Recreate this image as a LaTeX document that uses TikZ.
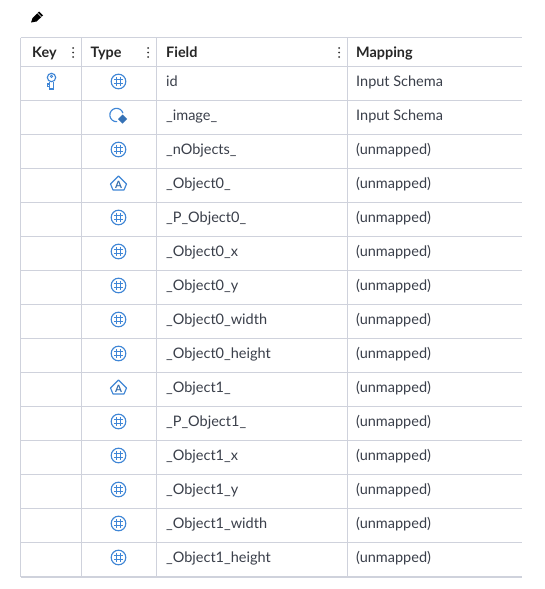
\documentclass[tikz,border=0pt]{standalone}
\usepackage{fontspec}
\setmainfont{Lato}
\usepackage{tikz}
\definecolor{gridline}{HTML}{CFD2DC}
\definecolor{iconblue}{HTML}{3F86D6}
\definecolor{celltext}{HTML}{3A3F4A}
\tikzset{
  head cell/.style={anchor=base west,inner sep=0pt,font=\fontsize{14.4}{14}\selectfont\bfseries,text=black!85},
  body cell/.style={anchor=base west,inner sep=0pt,font=\fontsize{14.5}{14}\selectfont,text=celltext},
  grid line/.style={draw=gridline,line width=1.2pt},
  icon line/.style={draw=iconblue,line width=1.15pt},
  pics/numicon/.style={code={
    \draw[icon line] (0,0) circle (7.3);
    \draw[icon line,line width=1pt] (-2,-4.5) -- (-2,4.5) (2,-4.5) -- (2,4.5) (-4.5,-2) -- (4.5,-2) (-4.5,2) -- (4.5,2);
  }},
  pics/charicon/.style={code={
    \draw[icon line,line join=round] (0,-7.5) -- (8,.5) -- (5.5,6.5) -- (-5.5,6.5) -- (-8,.5) -- cycle;
    \node[inner sep=0pt,text=iconblue!80!black,font=\fontsize{10}{10}\selectfont\bfseries] at (0,1) {A};
  }},
  pics/imgicon/.style={code={
    \draw[icon line] (-2,-.5) ++(84:6.7) arc (84:344:6.7);
    \fill[iconblue!85!black] (4,-1) -- (8.5,3.5) -- (4,8) -- (-.5,3.5) -- cycle;
  }},
  pics/keyicon/.style={code={
    \draw[icon line] (0,-4) circle (4.2);
    \draw[icon line,line width=.8pt] (0,-5.2) circle (1.2);
    \draw[icon line] (-2.2,0) -- (-2.2,7.5) -- (2.2,7.5) -- (2.2,0);
    \draw[icon line] (-2.2,2.5) -- (-4,2.5) -- (-4,4.8) -- (-2.2,4.8);
  }},
}
\begin{document}
\begin{tikzpicture}[x=1pt,y=-1pt]
  \useasboundingbox[fill=white] (0,0) rectangle (544,589);

  % pencil
  \fill[black] (31,22.5) -- (32.5,18) -- (39,11.5) -- (43,15.5) -- (36.5,21.5) -- cycle;
  \draw[white,line width=.6pt] (37.5,13) -- (41.5,17);

  % grid
  \foreach \yy in {37.5,66.5,100.5,134.5,168.5,202.5,236.5,270.5,304.5,338.5,372.5,406.5,440.5,474.5,508.5,542.5}
    \draw[grid line] (20.5,\yy) -- (522,\yy);
  \draw[grid line,line width=2pt] (20.5,576.5) -- (522,576.5);
  \foreach \xx in {20.5,81.5,156.5,347.5}
    \draw[grid line] (\xx,37.5) -- (\xx,576.5);

  % header
  \node[head cell] (keyhead) at (32,57) {Key};
  \node[head cell] (typehead) at (90.5,57) {Type};
  \node[head cell] (fieldhead) at (166,57) {Field};
  \node[head cell] (maphead) at (356,57) {Mapping};
  \foreach \xx in {73,148,339}
    \foreach \yy in {48,52.5,57}
      \fill[black!80] (\xx,\yy) circle (1);

  % rows
  \foreach \i/\ic/\fld/\mapped in {
    0/numicon/id/Input Schema,
    1/imgicon/\_image\_/Input Schema,
    2/numicon/\_nObjects\_/(unmapped),
    3/charicon/\_Object0\_/(unmapped),
    4/numicon/\_P\_Object0\_/(unmapped),
    5/numicon/\_Object0\_x/(unmapped),
    6/numicon/\_Object0\_y/(unmapped),
    7/numicon/\_Object0\_width/(unmapped),
    8/numicon/\_Object0\_height/(unmapped),
    9/charicon/\_Object1\_/(unmapped),
    10/numicon/\_P\_Object1\_/(unmapped),
    11/numicon/\_Object1\_x/(unmapped),
    12/numicon/\_Object1\_y/(unmapped),
    13/numicon/\_Object1\_width/(unmapped),
    14/numicon/\_Object1\_height/(unmapped)}
  {
    \pgfmathsetmacro{\ypos}{81.5+34*\i}
    \pgfmathsetmacro{\ybase}{\ypos+4.8}
    \pic at (118.5,\ypos) {\ic};
    \node[body cell] (field\i) at (166,\ybase) {\fld};
    \node[body cell] (map\i) at (356,\ybase) {\mapped};
  }
  \pic at (51.5,81.5) {keyicon};
\end{tikzpicture}
\end{document}
